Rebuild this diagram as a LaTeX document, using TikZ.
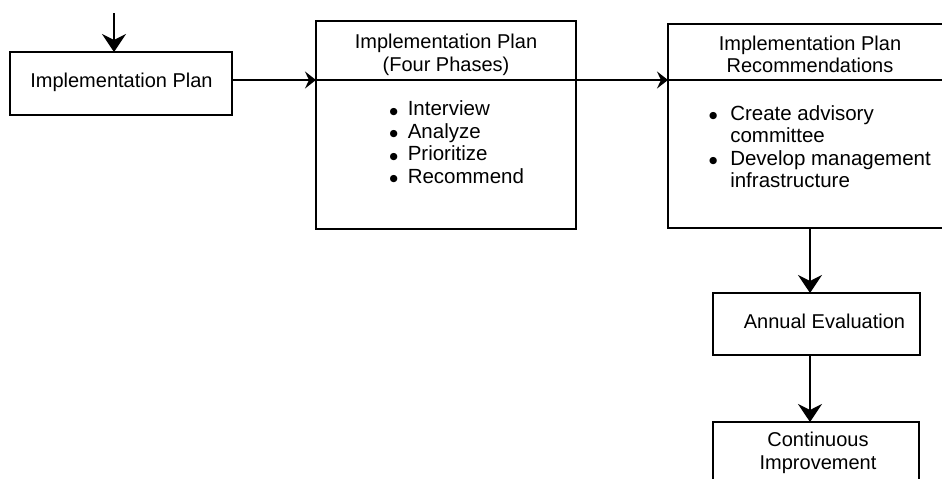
\documentclass[tikz,border=0pt]{standalone}
\usepackage{fontspec}
\setmainfont{Liberation Sans}
\newfontfamily\dejavu{DejaVu Sans}
\newcommand\bdot{\raisebox{1.6pt}{\dejavu\fontsize{9.5}{9.5}\selectfont ●}}
\usetikzlibrary{arrows.meta}
\begin{document}
\begin{tikzpicture}[x=1pt,y=-1pt,
  boxst/.style={draw, line width=2pt, inner sep=0pt, outer sep=0pt},
  ttl/.style={inner sep=0pt, outer sep=0pt, font=\fontsize{20}{22.8}\selectfont, anchor=base},
  bltxt/.style={inner sep=0pt, outer sep=0pt, font=\fontsize{20.5}{22.6}\selectfont, anchor=base west},
  conn/.style={line width=1.9pt},
  bigarrow/.style={line width=1.7pt, -{Stealth[length=18pt,width=24pt,inset=6pt]}},
  smallarrow/.style={line width=1.9pt, -{Stealth[length=11pt,width=17pt,inset=4pt]}}]
\useasboundingbox (0,0) rectangle (942,479);
\clip (0,0) rectangle (942,479);

% boxes
\node[boxst, minimum width=222pt, minimum height=63pt] (b1) at (121,83.5) {};
\node[boxst, minimum width=260pt, minimum height=208pt] (b2) at (446,125) {};
\node[boxst, minimum width=284pt, minimum height=204pt] (b3) at (810,126) {};
\node[boxst, minimum width=207pt, minimum height=62pt] (ae) at (816.5,324) {};
\node[boxst, minimum width=206pt, minimum height=78pt] (ci) at (816,461) {};

% texts
\node[ttl] (t1) at (121.5,87.5) {Implementation Plan};
\node[ttl] (t2) at (446,48.5) {\begin{tabular}[t]{@{}c@{}}Implementation Plan\\(Four Phases)\end{tabular}};
\node[ttl] (t3) at (810,50) {\begin{tabular}[t]{@{}c@{}}Implementation Plan\\Recommendations\end{tabular}};
\node[bltxt] (l2) at (389.5,115.7) {\begin{tabular}[t]{@{}l@{\hspace{10pt}}l@{}}\bdot&Interview\\\bdot&Analyze\\\bdot&Prioritize\\\bdot&Recommend\end{tabular}};
\node[bltxt] (l3) at (709,120) {\begin{tabular}[t]{@{}l@{\hspace{13pt}}l@{}}\bdot&Create advisory\\&committee\\\bdot&Develop management\\&infrastructure\end{tabular}};
\node[ttl] (t4) at (824.5,328) {Annual Evaluation};
\node[ttl] (t5) at (818,446.7) {\begin{tabular}[t]{@{}c@{}}Continuous\\Improvement\end{tabular}};

% connectors
\coordinate (top) at (114,13);
\coordinate (hl) at (0,80);
\draw[bigarrow] (top) -- (top |- b1.north);
\draw[smallarrow] (b1.east |- hl) -- (b2.west |- hl);
\draw[conn] (b2.west |- hl) -- (b2.east |- hl);
\draw[smallarrow] (b2.east |- hl) -- (b3.west |- hl);
\draw[conn] (b3.west |- hl) -- (b3.east |- hl);
\draw[bigarrow] (b3.south) -- (b3.south |- ae.north);
\draw[bigarrow] (b3.south |- ae.south) -- (b3.south |- ci.north);
\end{tikzpicture}
\end{document}
